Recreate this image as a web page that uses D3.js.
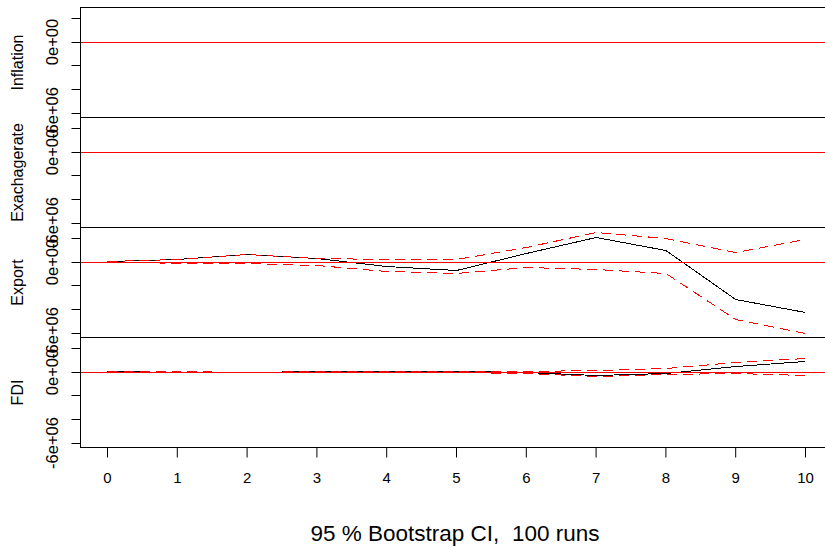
<!DOCTYPE html>
<html>
<head>
<meta charset="utf-8">
<script src="https://cdn.jsdelivr.net/npm/d3@7"></script>
<style>
  body { margin: 0; background: #fff; }
  text { font-family: "Liberation Sans", Arial, sans-serif; fill: #000; }
  path.series { shape-rendering: crispEdges; }
</style>
</head>
<body>
<script>
'use strict';

// horizon steps and response names (top to bottom)
const steps = [0, 1, 2, 3, 4, 5, 6, 7, 8, 9, 10];
const responses = ["Inflation", "Exachagerate", "Export", "FDI"];
const yTickValues = [2e6, 0, -2e6, -4e6, -6e6];
const yLabelValues = [0, -6e6];
const yLabelText = ["0e+00", "-6e+06"];
const footer = "95 % Bootstrap CI,  100 runs";

// impulse responses
const inflationIrf   = [0, 0, 0, 0, 0, 0, 0, 0, 0, 0, 0];
const inflationLower = [0, 0, 0, 0, 0, 0, 0, 0, 0, 0, 0];
const inflationUpper = [0, 0, 0, 0, 0, 0, 0, 0, 0, 0, 0];

const exchangeIrf   = [0, 0, 0, 0, 0, 0, 0, 0, 0, 0, 0];
const exchangeLower = [0, 0, 0, 0, 0, 0, 0, 0, 0, 0, 0];
const exchangeUpper = [0, 0, 0, 0, 0, 0, 0, 0, 0, 0, 0];

const exportIrf   = [0.09e6, 0.23e6, 0.66e6, 0.32e6, -0.37e6, -0.71e6, 0.74e6, 2.09e6, 1.0e6, -3.13e6, -4.27e6];
const exportLower = [0.08e6, -0.1e6, -0.1e6, -0.25e6, -0.8e6, -0.94e6, -0.43e6, -0.57e6, -0.99e6, -4.84e6, -6.07e6];
const exportUpper = [0.1e6, 0.23e6, 0.66e6, 0.32e6, 0.2e6, 0.23e6, 1.28e6, 2.56e6, 2.0e6, 0.85e6, 1.94e6];

const fdiIrf   = [0.08e6, 0, 0, 0.08e6, 0.08e6, 0.08e6, -0.05e6, -0.3e6, -0.1e6, 0.5e6, 0.95e6];
const fdiLower = [0.08e6, 0.05e6, 0, 0.05e6, 0.05e6, 0, -0.14e6, -0.34e6, -0.2e6, -0.14e6, -0.28e6];
const fdiUpper = [0.1e6, 0.1e6, 0, 0.1e6, 0.1e6, 0.1e6, 0.05e6, 0.17e6, 0.3e6, 0.8e6, 1.15e6];

(function() {

  let svg = "";

  window.onload = function() {
    svg = d3.select('body')
      .append('svg')
      .attr('width', 825)
      .attr('height', 548);

    let series = [
      {irf: inflationIrf, lower: inflationLower, upper: inflationUpper},
      {irf: exchangeIrf, lower: exchangeLower, upper: exchangeUpper},
      {irf: exportIrf, lower: exportLower, upper: exportUpper},
      {irf: fdiIrf, lower: fdiLower, upper: fdiUpper}
    ];

    // same y range for every panel, padded 4% like R does
    let all = [];
    series.forEach(s => { all = all.concat(s.irf, s.lower, s.upper); });
    let ext = d3.extent(all);
    let pad = (ext[1] - ext[0]) * 0.04;

    let left = 80.5, right = 833.5, top = 7.5, panelH = 110;

    let xScale = d3.scaleLinear()
      .domain([0, 10])
      .range([107, 805]);

    series.forEach((s, i) => {
      let y0 = top + i * panelH;
      let yScale = d3.scaleLinear()
        .domain([ext[0] - pad, ext[1] + pad])
        .rangeRound([y0 + panelH, y0]);
      drawPanel(s, xScale, yScale, left, right, y0, panelH, responses[i]);
    });

    makeXAxis(xScale, top + 4 * panelH);
    makeLabels();
  }

  function drawPanel(s, xScale, yScale, left, right, y0, h, name) {
    let g = svg.append('g');
    // data layer shifted half a pixel so 1px lines sit on pixel rows
    let data = g.append('g').attr('transform', 'translate(0.5,0.5)');

    let line = d3.line()
      .x((d, i) => xScale(steps[i]))
      .y(d => yScale(d));

    data.append('path')
      .datum(s.irf)
      .attr('class', 'series')
      .attr('fill', 'none')
      .attr('stroke', '#000')
      .attr('stroke-width', 1)
      .attr('d', line);

    [s.lower, s.upper].forEach(band => {
      data.append('path')
        .datum(band)
        .attr('class', 'series')
        .attr('fill', 'none')
        .attr('stroke', '#ff0000')
        .attr('stroke-width', 1)
        .attr('stroke-dasharray', '10,6')
        .attr('d', line);
    });

    // zero line
    data.append('line')
      .attr('x1', left - 0.5).attr('x2', right)
      .attr('y1', yScale(0))
      .attr('y2', yScale(0))
      .attr('stroke', '#ff0000')
      .attr('stroke-width', 1);

    // frame
    g.append('rect')
      .attr('x', left).attr('y', y0)
      .attr('width', right - left).attr('height', h)
      .attr('fill', 'none')
      .attr('stroke', '#000')
      .attr('stroke-width', 1);

    // y ticks
    let yAxis = d3.axisLeft(yScale)
      .tickValues(yTickValues)
      .tickSize(9)
      .tickFormat('');
    let ax = g.append('g')
      .attr('transform', 'translate(' + left + ',0)')
      .call(yAxis);
    ax.select('.domain').remove();
    ax.selectAll('line').attr('stroke', '#000');

    yLabelValues.forEach((v, k) => {
      g.append('text')
        .attr('transform', 'translate(58,' + yScale(v) + ')rotate(-90)')
        .attr('text-anchor', 'middle')
        .style('font-size', '16.5px')
        .text(yLabelText[k]);
    });

    g.append('text')
      .attr('transform', 'translate(23,' + (y0 + h / 2) + ')rotate(-90)')
      .attr('text-anchor', 'middle')
      .style('font-size', '16px')
      .text(name);
  }

  function makeXAxis(xScale, yBottom) {
    let xAxis = d3.axisBottom(xScale)
      .tickValues(steps)
      .tickSize(10)
      .tickPadding(15)
      .tickFormat(d3.format('d'));
    let ax = svg.append('g')
      .attr('transform', 'translate(0,' + yBottom + ')')
      .call(xAxis);
    ax.select('.domain').remove();
    ax.selectAll('line').attr('stroke', '#000');
    ax.selectAll('text')
      .style('font-size', '15px')
      .style('font-family', '"Liberation Sans", Arial, sans-serif')
      .attr('fill', '#000');
  }

  function makeLabels() {
    svg.append('text')
      .attr('x', 455)
      .attr('y', 541)
      .attr('text-anchor', 'middle')
      .style('font-size', '22.5px')
      .style('white-space', 'pre')
      .attr('xml:space', 'preserve')
      .text(footer);
  }
})();
</script>
</body>
</html>
